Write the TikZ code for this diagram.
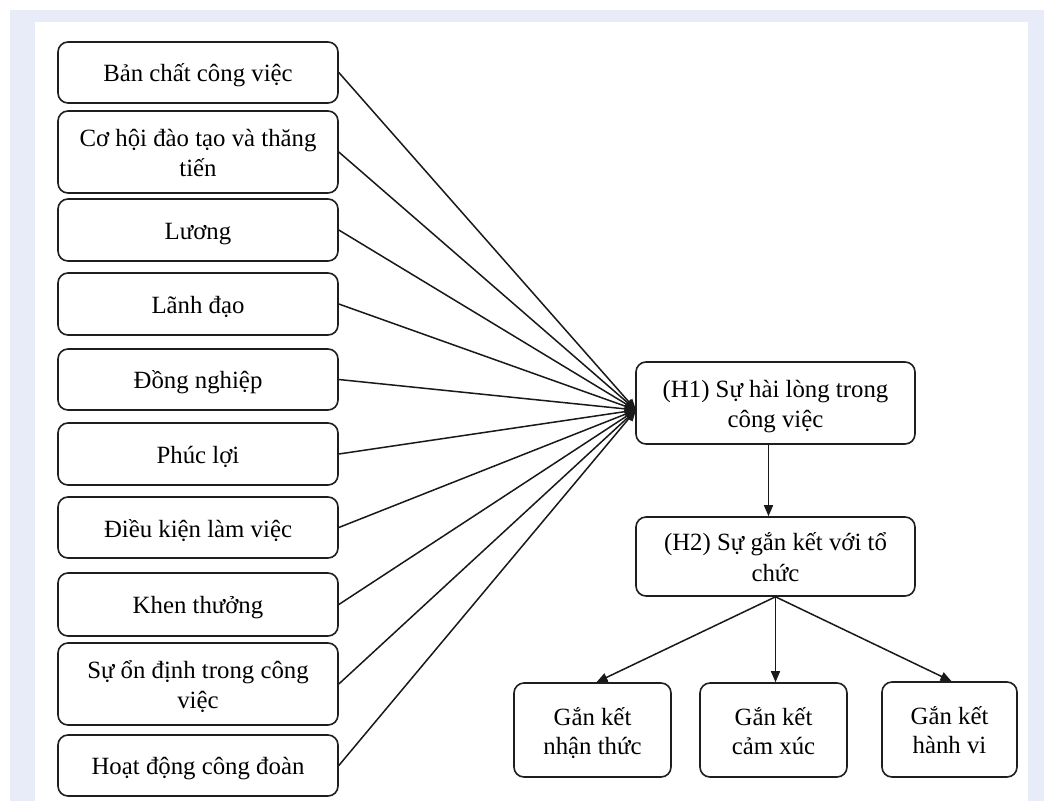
\documentclass[tikz,border=0pt]{standalone}
\usepackage{fontspec}
\setmainfont{Liberation Serif}
\usetikzlibrary{arrows.meta,calc}
\definecolor{lav}{RGB}{232,236,248}
\definecolor{edge}{RGB}{30,30,30}
\newcommand\ls{\rule[-5pt]{0pt}{29pt}}
\tikzset{
  box/.style={draw=edge, line width=1.6pt, rounded corners=10pt, fill=white, align=center,
    inner sep=2pt, font=\fontsize{24.8}{29}\selectfont},
  lbox/.style={box, minimum width=280pt},
  link/.style={draw=black!90, line width=1.5pt},
  arr/.style={link, -{Triangle[length=11pt,width=9pt]}}
}
\begin{document}
\begin{tikzpicture}[x=1pt,y=-1pt]
\useasboundingbox (0,0) rectangle (1044,801);
\fill[white] (0,0) rectangle (1044,801);
\fill[lav] (10,10) rectangle (1044,801);
\fill[white] (35,22) rectangle (1028,801);

\node[lbox, minimum height=61pt] (b1) at (198,72.5) {Bản chất công việc\ls};
\node[lbox, minimum height=82pt] (b2) at (198,152) {Cơ hội đào tạo và thăng\ls\\tiến\ls};
\node[lbox, minimum height=62pt] (b3) at (198,230) {Lương\ls};
\node[lbox, minimum height=62pt] (b4) at (198,304) {Lãnh đạo\ls};
\node[lbox, minimum height=61pt] (b5) at (198,379.5) {Đồng nghiệp\ls};
\node[lbox, minimum height=62pt] (b6) at (198,454) {Phúc lợi\ls};
\node[lbox, minimum height=61pt] (b7) at (198,527.5) {Điều kiện làm việc\ls};
\node[lbox, minimum height=63pt] (b8) at (198,604.5) {Khen thưởng\ls};
\node[lbox, minimum height=82pt] (b9) at (198,684) {Sự ổn định trong công\ls\\việc\ls};
\node[lbox, minimum height=61pt] (b10) at (198,765.5) {Hoạt động công đoàn\ls};

\node[box, minimum width=279pt, minimum height=82pt] (h1) at (775.5,403) {(H1) Sự hài lòng trong\ls\\công việc\ls};
\node[box, minimum width=279pt, minimum height=79pt] (h2) at (775.5,556.5) {(H2) Sự gắn kết với tổ\ls\\chức\ls};

\node[box, minimum width=157pt, minimum height=94pt] (ga) at (592.5,730) {Gắn kết\ls\\nhận thức\ls};
\node[box, minimum width=147pt, minimum height=94pt] (gb) at (773.5,730) {Gắn kết\ls\\cảm xúc\ls};
\node[box, minimum width=135pt, minimum height=95pt] (gc) at (949.5,729.5) {Gắn kết\ls\\hành vi\ls};

\coordinate (conv) at (636,410);
\foreach \i in {1,...,10} {
  \draw[arr] (b\i.east) -- (conv);
}

\draw[arr] ($(h1.south)+(-7,0)$) -- ($(h2.north)+(-7,0)$);
\draw[arr] (h2.south) -- ($(ga.north)+(4,0)$);
\draw[arr] (h2.south) -- (h2.south |- gb.north);
\draw[arr] (h2.south) -- ($(gc.north)+(2,0)$);
\end{tikzpicture}
\end{document}
